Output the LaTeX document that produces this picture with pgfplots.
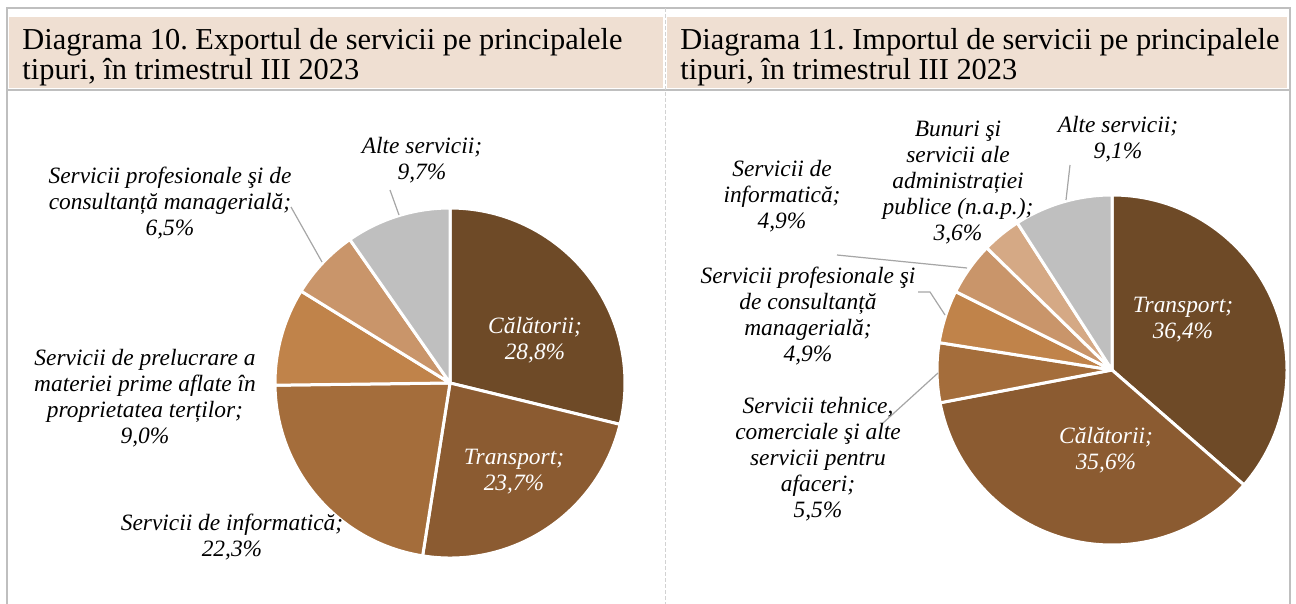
\documentclass[border=0pt]{standalone}
\usepackage{fontspec}
\setmainfont{Liberation Serif}
\usepackage{pgfplots}
\usepackage{pgfplotstable}
\pgfplotsset{compat=1.18}

\definecolor{cA}{HTML}{6E4A27}
\definecolor{cB}{HTML}{8B5B31}
\definecolor{cC}{HTML}{A46D3B}
\definecolor{cD}{HTML}{C0834A}
\definecolor{cE}{HTML}{C9956A}
\definecolor{cF}{HTML}{D5A985}
\definecolor{cG}{HTML}{BFBFBF}
\definecolor{hdr}{HTML}{EFDFD2}
\definecolor{frame}{HTML}{BFBFBF}
\definecolor{lead}{HTML}{A6A6A6}

% Export of services, Q3 2023 (%)
\pgfplotstableread{
val col
28.8 cA
23.7 cB
22.3 cC
9.0 cD
6.5 cE
9.7 cG
}\exportdata

% Import of services, Q3 2023 (%)
\pgfplotstableread{
val col
36.4 cA
35.6 cB
5.5 cC
4.9 cD
4.9 cE
3.6 cF
9.1 cG
}\importdata

\newcommand\drawpie[1]{%
  \pgfplotstablegetrowsof{#1}%
  \pgfmathtruncatemacro\lastrow{\pgfplotsretval-1}%
  \xdef\cum{0}%
  \foreach \i in {0,...,\lastrow}{%
    \pgfplotstablegetelem{\i}{val}\of{#1}\let\pv\pgfplotsretval
    \pgfplotstablegetelem{\i}{col}\of{#1}\let\pc\pgfplotsretval
    \pgfmathsetmacro\angA{90-3.6*\cum}%
    \pgfmathsetmacro\angB{90-3.6*(\cum+\pv)}%
    \edef\slice{\noexpand\filldraw[fill=\pc, draw=white, line width=1.5pt, line join=round]
      (axis cs:0,0) -- ++(\angA:87.5pt) arc[start angle=\angA, end angle=\angB, radius=87.5pt] -- cycle;}%
    \slice
    \pgfmathsetmacro\newcum{\cum+\pv}%
    \xdef\cum{\newcum}%
  }%
}

\newcommand\lbl{\itshape\fontsize{11.7}{13}\selectfont}
\newcommand\hdrfont{\fontsize{15.2}{17}\selectfont}

\begin{document}
\frenchspacing
\begin{tikzpicture}[x=0.5pt,y=-0.5pt]
\useasboundingbox (0,0) rectangle (1296,604);
% frame
\fill[hdr] (9,17) rectangle (663,88);
\fill[hdr] (667,17) rectangle (1287,88);
\draw[frame, line width=1pt] (7,604) -- (7,8) -- (1290,8) -- (1290,604);
\draw[frame, line width=1pt] (7,90) -- (1290,90);
\draw[frame!70, line width=0.5pt, dash pattern=on 2pt off 1pt] (665,8) -- (665,604);

% headers
\node[anchor=base west, inner sep=0, font=\hdrfont] at (22,50) {Diagrama 10. Exportul de servicii pe principalele};
\node[anchor=base west, inner sep=0, font=\hdrfont] at (22,80) {tipuri, în trimestrul III 2023};
\node[anchor=base west, inner sep=0, font=\hdrfont] at (680,50) {Diagrama 11. Importul de servicii pe principalele};
\node[anchor=base west, inner sep=0, font=\hdrfont] at (680,80) {tipuri, în trimestrul III 2023};

% left pie
\begin{axis}[hide axis, x=0.5pt, y=0.5pt, xmin=-180, xmax=180, ymin=-180, ymax=180,
  at={(225pt,-191.5pt)}, anchor=center]
  \addplot[draw=none] coordinates {(0,0)};
  \drawpie{\exportdata}
\end{axis}

% right pie
\begin{axis}[hide axis, x=0.5pt, y=0.5pt, xmin=-180, xmax=180, ymin=-180, ymax=180,
  at={(556pt,-185pt)}, anchor=center]
  \addplot[draw=none] coordinates {(0,0)};
  \drawpie{\importdata}
\end{axis}

% leader lines
\draw[lead, line width=0.6pt] (390,190) -- (399,215);
\draw[lead, line width=0.6pt] (291,207) -- (322,262);
\draw[lead, line width=0.6pt] (1070,165) -- (1066,200);
\draw[lead, line width=0.6pt] (837,255) -- (967,268);
\draw[lead, line width=0.6pt] (918,292) -- (930,292) -- (945,315);
\draw[lead, line width=0.6pt] (883,423) -- (938,373);

% left labels
\node[align=center, font=\lbl] at (422,160) {Alte servicii;\\9,7\%};
\node[align=center, font=\lbl] at (170,203) {Servicii profesionale şi de\\consultanță managerială;\\6,5\%};
\node[align=center, font=\lbl] at (145,398) {Servicii de prelucrare a\\materiei prime aflate în\\proprietatea terților;\\9,0\%};
\node[align=center, font=\lbl] at (232,537) {Servicii de informatică;\\22,3\%};
\node[align=center, font=\lbl, text=white] at (535,340) {Călătorii;\\28,8\%};
\node[align=center, font=\lbl, text=white] at (514,472) {Transport;\\23,7\%};

% right labels
\node[align=center, font=\lbl] at (1118,139) {Alte servicii;\\9,1\%};
\node[align=center, font=\lbl] at (958,183) {Bunuri şi\\servicii ale\\administrației\\publice (n.a.p.);\\3,6\%};
\node[align=center, font=\lbl] at (782,196) {Servicii de\\informatică;\\4,9\%};
\node[align=center, font=\lbl] at (808,316) {Servicii profesionale şi\\de consultanță\\managerială;\\4,9\%};
\node[align=center, font=\lbl] at (818,459) {Servicii tehnice,\\comerciale şi alte\\servicii pentru\\afaceri;\\5,5\%};
\node[align=center, font=\lbl, text=white] at (1183,320) {Transport;\\36,4\%};
\node[align=center, font=\lbl, text=white] at (1106,450) {Călătorii;\\35,6\%};
\end{tikzpicture}
\end{document}
